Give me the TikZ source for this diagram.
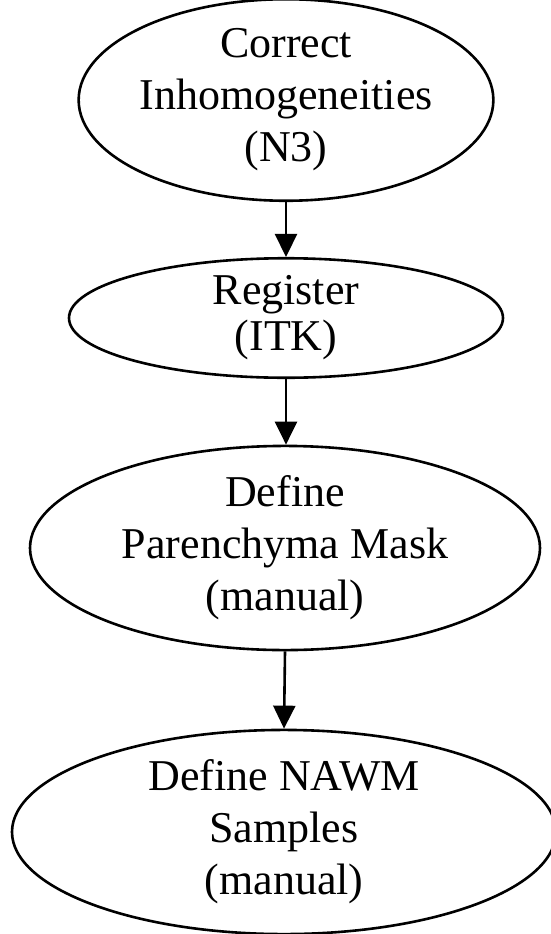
\documentclass[tikz,border=0pt]{standalone}
\usepackage{fontspec}
\setmainfont{Liberation Serif}
\usetikzlibrary{shapes.geometric,arrows.meta}
\begin{document}
\begin{tikzpicture}[x=1pt,y=-1pt,
  stepnode/.style={draw, ellipse, line width=2.6pt, inner sep=0pt, align=center,
    font=\fontsize{44}{52}\selectfont},
  flow/.style={line width=2.6pt, -{Triangle[length=23pt,width=22pt]}}]
\useasboundingbox (0,0) rectangle (551,934);
\node[stepnode, minimum width=382pt, minimum height=180pt] (a) at (286,100) {Correct\\Inhomogeneities\\(N3)};
\node[stepnode, minimum width=434pt, minimum height=110pt, font=\fontsize{44}{46}\selectfont] (b) at (286,318) {Register\\(ITK)};
\node[stepnode, minimum width=510pt, minimum height=204pt] (c) at (285,548) {Define\\Parenchyma Mask\\(manual)};
\node[stepnode, minimum width=544pt, minimum height=196pt] (d) at (284,832) {Define NAWM\\Samples\\(manual)};
\draw[flow] (a.south) -- (b.north);
\draw[flow] (b.south) -- (b.south |- c.north);
\draw[flow] (c.south) -- (d.north);
\end{tikzpicture}
\end{document}
